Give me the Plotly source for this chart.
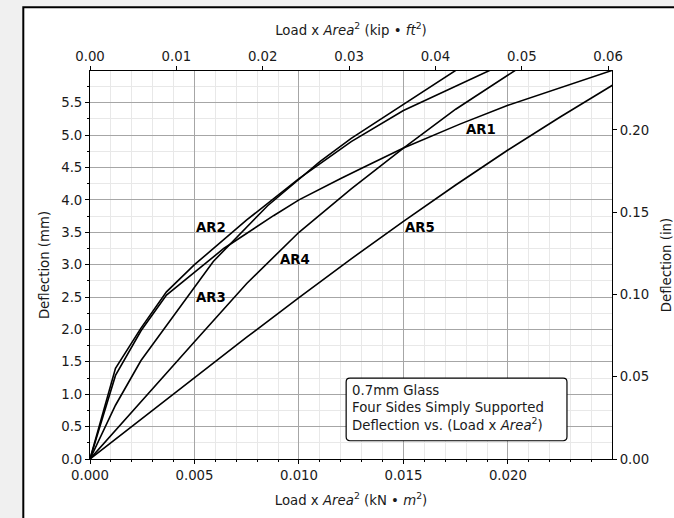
import plotly.graph_objects as go

# ---------------- data ----------------
ar1_x = [0, 0.00122, 0.00244, 0.00366, 0.0064, 0.0088, 0.010, 0.011, 0.012, 0.013, 0.015, 0.0177, 0.020, 0.0250]
ar1_y = [0, 1.29, 1.98, 2.53, 3.25, 3.76, 4.00, 4.17, 4.33, 4.49, 4.80, 5.17, 5.46, 6.00]

ar2_x = [0, 0.00122, 0.00244, 0.00366, 0.005, 0.0075, 0.010, 0.0125, 0.015, 0.0192]
ar2_y = [0, 1.40, 2.02, 2.58, 3.00, 3.69, 4.33, 4.90, 5.38, 6.01]

ar3_x = [0, 0.00122, 0.00244, 0.00366, 0.0059, 0.0085, 0.011, 0.0125, 0.015, 0.0176]
ar3_y = [0, 0.83, 1.52, 2.06, 3.05, 3.91, 4.59, 4.95, 5.48, 6.02]

ar4_x = [0, 0.0025, 0.005, 0.0075, 0.010, 0.0125, 0.015, 0.0175, 0.0204]
ar4_y = [0, 0.91, 1.81, 2.71, 3.50, 4.17, 4.80, 5.40, 6.01]

ar5_x = [0, 0.0025, 0.005, 0.0075, 0.010, 0.0125, 0.015, 0.0175, 0.020, 0.0225, 0.0250]
ar5_y = [0, 0.63, 1.26, 1.88, 2.49, 3.09, 3.67, 4.23, 4.77, 5.28, 5.77]

series_names = ["AR1", "AR2", "AR3", "AR4", "AR5"]
series_x = [ar1_x, ar2_x, ar3_x, ar4_x, ar5_x]
series_y = [ar1_y, ar2_y, ar3_y, ar4_y, ar5_y]

# label anchor points (data coords)
label_x = [0.0179, 0.00500, 0.00500, 0.0090, 0.0150]
label_y = [5.08, 3.57, 2.49, 3.085, 3.57]

x_max_knm2 = 0.02498
y_max_mm = 5.99
KIPFT2_TO_KNM2 = 4.4482216 * 0.09290304
MM_PER_IN = 25.4

bottom_ticks = [0.000, 0.005, 0.010, 0.015, 0.020]
top_ticks = [0.00, 0.01, 0.02, 0.03, 0.04, 0.05, 0.06]
left_ticks = [0.0, 0.5, 1.0, 1.5, 2.0, 2.5, 3.0, 3.5, 4.0, 4.5, 5.0, 5.5]
right_ticks = [0.00, 0.05, 0.10, 0.15, 0.20]

box_lines = ["0.7mm Glass", "Four Sides Simply Supported",
             "Deflection vs. (Load x <i>Area</i><sup>2</sup>)"]

FONT = "DejaVu Sans, sans-serif"
FS = 13.3
TXT = "#1a1a1a"
MAJ_GRID = "#a6a6a6"
MIN_GRID = "#e8e8e8"

fig = go.Figure()
for name, xs, ys in zip(series_names, series_x, series_y):
    fig.add_trace(go.Scatter(x=xs, y=ys, mode="lines", name=name,
                             line=dict(color="black", width=1.6),
                             showlegend=False, hoverinfo="skip"))
# dummy trace to activate secondary axes
fig.add_trace(go.Scatter(x=[0], y=[0], xaxis="x2", yaxis="y2", mode="markers",
                         marker=dict(opacity=0), showlegend=False, hoverinfo="skip"))

for name, lx, ly in zip(series_names, label_x, label_y):
    fig.add_annotation(x=lx, y=ly, xref="x", yref="y", text="<b>" + name + "</b>",
                       showarrow=False, xanchor="left", yanchor="middle",
                       font=dict(family=FONT, size=FS, color="black"))

# rounded text box
bx0, bx1, by0, by1 = 0.012258, 0.022825, 0.282, 1.248
rx, ry = 0.00018, 0.06
path = (f"M {bx0+rx},{by0} L {bx1-rx},{by0} Q {bx1},{by0} {bx1},{by0+ry} "
        f"L {bx1},{by1-ry} Q {bx1},{by1} {bx1-rx},{by1} "
        f"L {bx0+rx},{by1} Q {bx0},{by1} {bx0},{by1-ry} "
        f"L {bx0},{by0+ry} Q {bx0},{by0} {bx0+rx},{by0} Z")
fig.add_shape(type="path", path=path, xref="x", yref="y",
              line=dict(color="black", width=1.2), fillcolor="white", layer="above")
fig.add_annotation(x=0.01245, y=0.79, xref="x", yref="y", text="<br>".join(box_lines),
                   showarrow=False, xanchor="left", yanchor="middle", align="left",
                   font=dict(family=FONT, size=FS, color=TXT))

# outer figure frame
W, H = 674, 518
ml, mr, mt, mb = 90, 62, 71, 59
pw, ph = W - ml - mr, H - mt - mb
def px2paper_x(px):
    return (px - ml) / pw
def px2paper_y(py):
    return (H - mb - py) / ph
fig.add_shape(type="rect", xref="paper", yref="paper",
              x0=px2paper_x(23.3), x1=px2paper_x(720), y0=px2paper_y(560), y1=px2paper_y(7.3),
              line=dict(color="black", width=2), fillcolor="white", layer="below")

axis_common = dict(showline=True, linecolor="black", linewidth=1, ticks="outside",
                   tickcolor="black", ticklen=4, tickwidth=1, zeroline=False,
                   automargin=False,
                   tickfont=dict(family=FONT, size=FS, color=TXT))

fig.update_layout(
    width=W, height=H,
    margin=dict(l=ml, r=mr, t=mt, b=mb, pad=0, autoexpand=False),
    paper_bgcolor="#f0f0f0", plot_bgcolor="white",
    font=dict(family=FONT, size=FS, color=TXT),
    xaxis=dict(range=[0, x_max_knm2], tickvals=bottom_ticks,
               ticktext=[f"{v:.3f}" for v in bottom_ticks],
               showgrid=True, gridcolor=MAJ_GRID, gridwidth=1,
               minor=dict(dtick=0.001, tick0=0, ticks="outside", ticklen=2, tickcolor="black",
                          showgrid=True, gridcolor=MIN_GRID, gridwidth=1),
               title=dict(text="Load x <i>Area</i><sup>2</sup> (kN • <i>m</i><sup>2</sup>)",
                          font=dict(family=FONT, size=FS, color=TXT), standoff=13),
               **axis_common),
    xaxis2=dict(range=[0, x_max_knm2 / KIPFT2_TO_KNM2], overlaying="x", side="top",
                tickvals=top_ticks, ticktext=[f"{v:.2f}" for v in top_ticks],
                showgrid=False,
                title=dict(text="Load x <i>Area</i><sup>2</sup> (kip • <i>ft</i><sup>2</sup>)",
                           font=dict(family=FONT, size=FS, color=TXT), standoff=10),
                **axis_common),
    yaxis=dict(range=[0, y_max_mm], tickvals=left_ticks,
               ticktext=[f"{v:.1f}" for v in left_ticks],
               showgrid=True, gridcolor=MAJ_GRID, gridwidth=1,
               minor=dict(dtick=0.25, tick0=0, ticks="outside", ticklen=2, tickcolor="black",
                          showgrid=True, gridcolor=MIN_GRID, gridwidth=1),
               title=dict(text="Deflection (mm)", font=dict(family=FONT, size=FS, color=TXT),
                          standoff=8),
               **axis_common),
    yaxis2=dict(range=[0, y_max_mm / MM_PER_IN], overlaying="y", side="right",
                tickvals=right_ticks, ticktext=[f"{v:.2f}" for v in right_ticks],
                showgrid=False,
                title=dict(text="Deflection (in)", font=dict(family=FONT, size=FS, color=TXT),
                           standoff=14),
                **axis_common),
)

fig.write_html("out.html", config={"displayModeBar": False},
               post_script="document.body.style.margin='0px';"
                           "document.body.style.backgroundColor='#f0f0f0';")
